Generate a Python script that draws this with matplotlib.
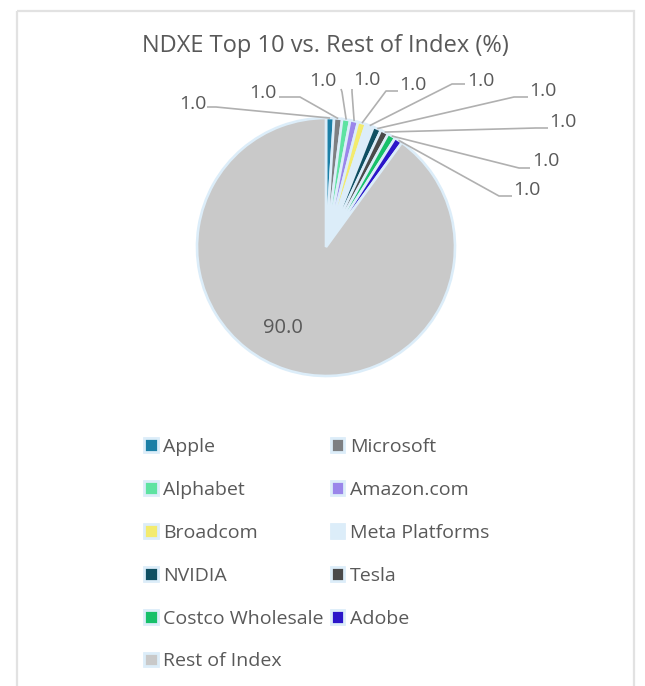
import numpy as np
import matplotlib
matplotlib.use("Agg")
import matplotlib.pyplot as plt
from matplotlib.patches import Patch, Rectangle

# ---- data ----
categories = ["Apple", "Microsoft", "Alphabet", "Amazon.com", "Broadcom",
              "Meta Platforms", "NVIDIA", "Tesla", "Costco Wholesale", "Adobe",
              "Rest of Index"]
values = [1.0, 1.0, 1.0, 1.0, 1.0, 1.0, 1.0, 1.0, 1.0, 1.0, 90.0]
colors = ["#1b7fa6", "#7d7f82", "#5ee3a1", "#9a86ea", "#f3eb6e",
          "#dcedf9", "#0f4f62", "#4a4a4a", "#17c06a", "#2b16c9", "#c9c9c9"]
title = "NDXE Top 10 vs. Rest of Index (%)"

# ---- layout (pixels, y from top) ----
W, H = 645, 686
CX, CY, R = 326, 247, 129
EDGE = "#dcedf9"
TXT = "#595959"
FONT = ["Open Sans", "DejaVu Sans"]

# label text centres, leader start and elbow points for the ten small slices
label_pos = [(193, 104), (263, 93), (323, 81), (367, 80), (413, 85),
             (481, 81), (543, 91), (563, 122), (546, 161), (527, 190)]
leader_start = [(207, 107), (279, 97), (341, 89), (352, 89), (398, 91),
                (465, 84), (528, 97), (548, 128), (530, 168), (512, 196)]
leader_elbow = [(216, 107), (300, 97), (342, 92), (352, 92), (386, 91),
                (452, 84), (514, 97), (536, 128), (519, 168), (499, 196)]
big_label_pos = (283, 328)

fig = plt.figure(figsize=(W / 100, H / 100), dpi=100)
ax = fig.add_axes([0, 0, 1, 1])

# frame
ax.add_patch(Rectangle((17, 11), 617, 700, fill=False, edgecolor="#e2e2e2",
                       linewidth=1.6, zorder=0))

# pie drawn in an inverted y axis: counterclock=True appears clockwise
wedges, _ = ax.pie(values, colors=colors, startangle=-90, counterclock=True,
                   center=(CX, CY), radius=R, frame=True,
                   wedgeprops=dict(edgecolor=EDGE, linewidth=1.9))
ax.set_xlim(0, W)
ax.set_ylim(H, 0)
ax.set_aspect("equal")
ax.axis("off")

# labels for the ten small slices
total = sum(values)
cum = 0.0
for i, v in enumerate(values):
    mid = cum + v / 2.0
    cum += v
    if i >= 10:
        continue
    ang = np.deg2rad(90 - 360.0 * mid / total)
    rx = CX + R * np.cos(ang)
    ry = CY - R * np.sin(ang)
    sx, sy = leader_start[i]
    ex, ey = leader_elbow[i]
    ax.plot([sx, ex, rx], [sy, ey, ry], color="#b0b0b0", linewidth=1.2,
            zorder=1, solid_capstyle="butt")
    lx, lyy = label_pos[i]
    ax.text(lx, lyy, f"{v:.1f}", ha="center", va="center", fontsize=14,
            color=TXT, family=FONT)

ax.text(big_label_pos[0], big_label_pos[1], f"{values[-1]:.1f}", ha="center",
        va="center", fontsize=14.5, color=TXT, family=FONT)

ax.text(325, 46, title, ha="center", va="center", fontsize=17, color=TXT,
        family=FONT)

# legend, row-major order like the original
order = [0, 2, 4, 6, 8, 10, 1, 3, 5, 7, 9]
handles = [Patch(facecolor=colors[k], edgecolor=EDGE, linewidth=2.0) for k in order]
labels = [categories[k] for k in order]
leg = ax.legend(handles, labels, ncol=2, loc="upper left",
                bbox_to_anchor=(144 / W, 1 - 438 / H), frameon=False,
                prop=dict(family=FONT, size=14), labelcolor=TXT,
                handlelength=0.7, handleheight=0.7, handletextpad=0.3,
                labelspacing=1.28, columnspacing=0.35, borderaxespad=0,
                borderpad=0)

fig.savefig("out.png", dpi=100, facecolor="white")
